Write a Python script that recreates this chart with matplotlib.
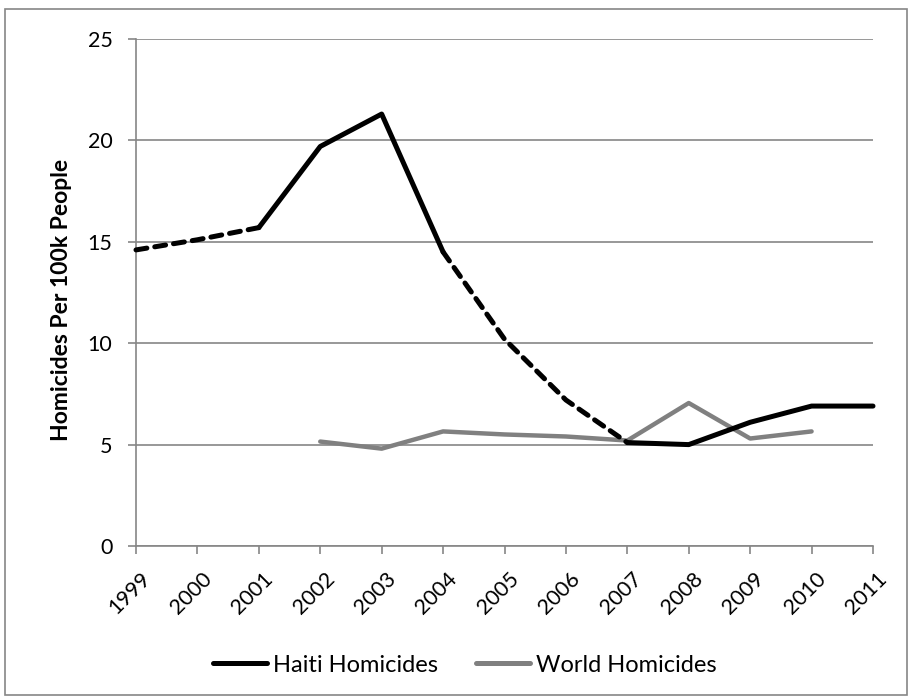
import matplotlib
matplotlib.use("Agg")
import matplotlib.pyplot as plt
from matplotlib.lines import Line2D
from matplotlib.patches import Rectangle
from matplotlib.transforms import ScaledTranslation

plt.rcParams['font.family'] = ['Lato', 'DejaVu Sans']

years = [1999, 2000, 2001, 2002, 2003, 2004, 2005, 2006, 2007, 2008, 2009, 2010, 2011]
haiti = [14.6, 15.1, 15.7, 19.7, 21.3, 14.5, 10.2, 7.2, 5.1, 5.0, 6.1, 6.9, 6.9]
world_years = [2002, 2003, 2004, 2005, 2006, 2007, 2008, 2009, 2010]
world = [5.15, 4.8, 5.65, 5.5, 5.4, 5.2, 7.05, 5.3, 5.65]
# (start index, end index, estimated?) pieces of the Haiti series
haiti_pieces = [(0, 2, True), (2, 5, False), (5, 8, True), (8, 12, False)]

W, H = 913, 700
fig = plt.figure(figsize=(W / 100, H / 100), dpi=100)
ax = fig.add_axes([136 / W, 1 - 546 / H, (873 - 136) / W, (546 - 39) / H])

gray = '#868686'
ax.set_xlim(1999, 2011)
ax.set_ylim(0, 25)
ax.set_yticks(range(0, 26, 5))
ax.set_xticks(years)
ax.grid(axis='y', color=gray, linewidth=1.2)
ax.set_axisbelow(True)
for s in ['top', 'right']:
    ax.spines[s].set_visible(False)
for s in ['left', 'bottom']:
    ax.spines[s].set_color(gray)
    ax.spines[s].set_linewidth(1.2)
ax.tick_params(axis='both', color=gray, width=1.2, length=6, labelsize=15.5)
ax.tick_params(axis='y', pad=11)
ax.tick_params(axis='x', pad=10)
ax.set_xticklabels([str(y) for y in years], rotation=45, ha='right', rotation_mode='anchor')
shift = ScaledTranslation(4 / 100, 0, fig.dpi_scale_trans)
for lbl in ax.get_xticklabels():
    lbl.set_transform(lbl.get_transform() + shift)
fig.text(62 / W, 1 - 300 / H, 'Homicides Per 100k People', rotation=90,
         ha='center', va='center', fontsize=16.5, fontweight='bold')

ax.plot(world_years, world, color='#808080', linewidth=3.2, solid_capstyle='round',
        solid_joinstyle='round', clip_on=False, zorder=3)
for a, b, est in haiti_pieces:
    ax.plot(years[a:b + 1], haiti[a:b + 1], color='black', linewidth=3.6,
            linestyle=(0, (2.2, 1.6)) if est else '-',
            dash_capstyle='round', solid_capstyle='round', solid_joinstyle='round',
            clip_on=False, zorder=4)

handles = [Line2D([], [], color='black', linewidth=3.6, solid_capstyle='round'),
           Line2D([], [], color='#808080', linewidth=3.6, solid_capstyle='round')]
fig.legend(handles, ['Haiti Homicides', 'World Homicides'], loc='center',
           bbox_to_anchor=(465 / W, 1 - 665 / H), ncol=2, frameon=False, fontsize=17,
           handlelength=2.3, handletextpad=0.25, columnspacing=1.6)

fig.patches.append(Rectangle((5 / W, 1 - 695 / H), 902 / W, 686 / H,
                             transform=fig.transFigure, fill=False,
                             edgecolor=gray, linewidth=1.2))

fig.savefig('out.png', dpi=100)
